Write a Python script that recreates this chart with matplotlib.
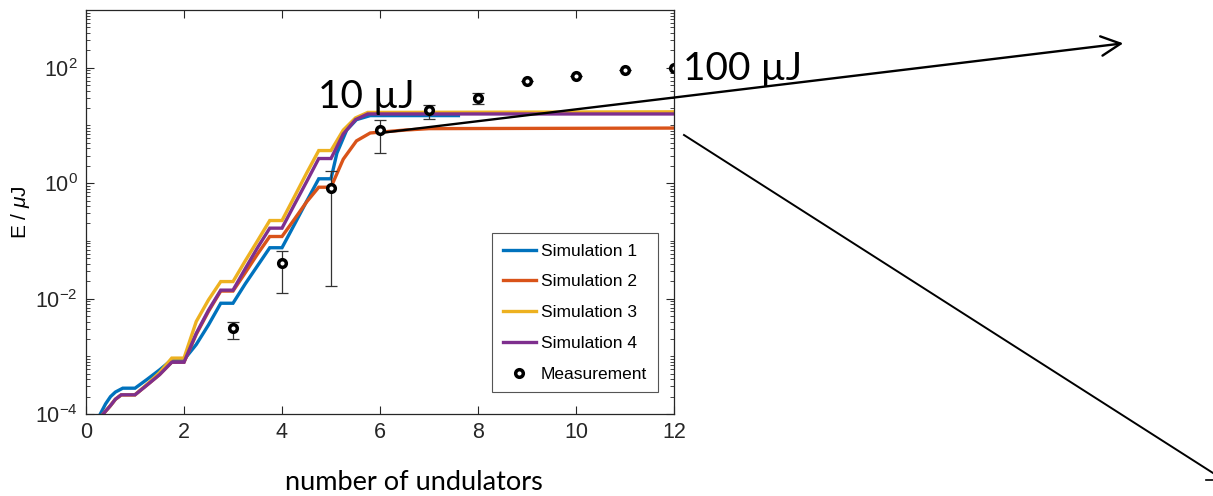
import matplotlib.pyplot as plt
from matplotlib.lines import Line2D
from matplotlib.patches import FancyArrowPatch
from matplotlib.ticker import LogLocator, NullFormatter

# Simulated pulse energy along the undulator line (µJ)
x_sim1 = [0.2, 0.4, 0.5, 0.6, 0.75, 1.0, 1.25, 1.5, 1.75, 2.0, 2.25, 2.5, 2.75, 3.0,
          3.25, 3.5, 3.75, 4.0, 4.25, 4.5, 4.75, 5.0, 5.12, 5.32, 5.52, 5.8, 7.6]
e_sim1 = [7.1e-5, 1.5e-4, 2.0e-4, 2.4e-4, 2.8e-4, 2.8e-4, 4.0e-4, 5.8e-4, 8.7e-4, 8.7e-4,
          1.6e-3, 3.5e-3, 8.3e-3, 8.3e-3, 0.018, 0.037, 0.076, 0.076, 0.19, 0.48, 1.19, 1.19,
          3.3, 8.3, 12.6, 14.8, 14.8]

x_sim2 = [0.25, 0.35, 0.5, 0.6, 0.72, 1.0, 1.25, 1.5, 1.75, 2.0, 2.25, 2.5, 2.75, 3.0,
          3.25, 3.5, 3.75, 4.0, 4.25, 4.5, 4.75, 5.0, 5.25, 5.52, 5.8, 6.5, 7.0, 12.0]
e_sim2 = [7.0e-5, 1.0e-4, 1.4e-4, 1.8e-4, 2.15e-4, 2.15e-4, 3.2e-4, 4.8e-4, 7.9e-4, 7.9e-4,
          2.4e-3, 6.0e-3, 0.0135, 0.0135, 0.028, 0.059, 0.119, 0.119, 0.235, 0.47, 0.85, 0.85,
          2.6, 5.4, 7.4, 8.3, 8.8, 9.0]

x_sim3 = [0.25, 0.35, 0.5, 0.6, 0.72, 1.0, 1.25, 1.5, 1.75, 2.0, 2.25, 2.5, 2.75, 3.0,
          3.25, 3.5, 3.75, 4.0, 4.25, 4.5, 4.75, 5.0, 5.25, 5.5, 5.75, 12.0]
e_sim3 = [7.0e-5, 1.0e-4, 1.4e-4, 1.8e-4, 2.15e-4, 2.15e-4, 3.3e-4, 5.2e-4, 9.3e-4, 9.3e-4,
          4.0e-3, 9.5e-3, 0.0197, 0.0197, 0.045, 0.10, 0.225, 0.225, 0.575, 1.48, 3.67, 3.67,
          8.3, 13.5, 16.8, 17.2]

x_sim4 = [0.25, 0.35, 0.5, 0.6, 0.72, 1.0, 1.25, 1.5, 1.75, 2.0, 2.25, 2.5, 2.75, 3.0,
          3.25, 3.5, 3.75, 4.0, 4.25, 4.5, 4.75, 5.0, 5.25, 5.5, 5.75, 12.0]
e_sim4 = [7.0e-5, 1.0e-4, 1.4e-4, 1.8e-4, 2.15e-4, 2.15e-4, 3.2e-4, 4.8e-4, 7.9e-4, 7.9e-4,
          2.5e-3, 6.3e-3, 0.014, 0.014, 0.033, 0.076, 0.166, 0.166, 0.42, 1.05, 2.67, 2.67,
          7.1, 12.6, 15.8, 15.8]

# Measured energies with error range
x_meas = [3, 4, 5, 6, 7, 8, 9, 10, 11, 12]
e_meas = [3.07e-3, 0.041, 0.82, 8.2, 18.7, 29.7, 57.7, 73, 92, 100]
e_low = [2.0e-3, 0.0127, 0.0166, 3.3, 13.0, 23.7, 57.7, 73, 92, 100]
e_high = [4.0e-3, 0.067, 1.6, 12.5, 22.7, 36.3, 57.7, 73, 92, 100]

sim_labels = ['Simulation 1', 'Simulation 2', 'Simulation 3', 'Simulation 4']
sim_colors = ['#0072BD', '#D95319', '#EDB120', '#7E2F8E']

plot_font = ['Liberation Sans', 'DejaVu Sans']
slide_font = ['Lato', 'DejaVu Sans']
plt.rcParams['mathtext.fontset'] = 'custom'
plt.rcParams['mathtext.rm'] = 'Liberation Sans'
plt.rcParams['mathtext.it'] = 'Liberation Sans:italic'

W, H = 1213, 496
fig = plt.figure(figsize=(W / 100, H / 100), dpi=100)
ax = fig.add_axes([86 / W, 1 - 414 / H, 588 / W, 404 / H])

for xs, es, lab, col in zip([x_sim1, x_sim2, x_sim3, x_sim4],
                            [e_sim1, e_sim2, e_sim3, e_sim4], sim_labels, sim_colors):
    ax.plot(xs, es, color=col, lw=2.4, label=lab, solid_joinstyle='miter')

yerr = [[m - lo for m, lo in zip(e_meas, e_low)], [hi - m for m, hi in zip(e_meas, e_high)]]
ax.errorbar(x_meas, e_meas, yerr=yerr, fmt='none', ecolor='#333333', elinewidth=0.9,
            capsize=4, capthick=0.9)
ax.plot(x_meas, e_meas, 'o', ms=5.5, mfc='white', mec='black', mew=2.5,
        ls='none', label='Measurement')

ax.set_yscale('log')
ax.set_xlim(0, 12)
ax.set_ylim(1e-4, 1e3)
ax.set_xticks([0, 2, 4, 6, 8, 10, 12])
ax.yaxis.set_major_locator(LogLocator(base=100, numticks=10))
ax.yaxis.set_minor_locator(LogLocator(base=10, subs=range(1, 10), numticks=50))
ax.yaxis.set_minor_formatter(NullFormatter())
ax.tick_params(which='both', direction='in', top=True, right=True, colors='#262626')
ax.tick_params(which='major', length=6, width=0.8, labelsize=15.5, pad=6)
ax.tick_params(which='minor', length=3, width=0.6)
for lbl in ax.get_xticklabels() + ax.get_yticklabels():
    lbl.set_family(plot_font)
for sp in ax.spines.values():
    sp.set_color('#262626')
    sp.set_linewidth(0.9)

ax.set_ylabel(r'E / $\mu$J', fontsize=15, family=plot_font)
ax.yaxis.set_label_coords(-0.092, 0.5)

leg = ax.legend(loc='lower right', bbox_to_anchor=(0.972, 0.054), borderaxespad=0,
                fancybox=False, edgecolor='#555555', framealpha=1,
                prop={'family': plot_font, 'size': 12.5}, handlelength=1.9,
                handletextpad=0.3, labelspacing=0.9, borderpad=0.6)
leg.get_frame().set_linewidth(0.8)

# Slide text and arrows on top of the plot
fig.text(414 / W, 1 - 483 / H, 'number of undulators', ha='center', va='center',
         fontsize=19.5, family=slide_font)
fig.text(318 / W, 1 - 108 / H, '10 µJ', ha='left', va='baseline', fontsize=28,
         family=slide_font)
fig.text(683 / W, 1 - 80 / H, '100 µJ', ha='left', va='baseline', fontsize=28,
         family=slide_font)


def fpt(px, py):
    return (px / W, 1 - py / H)


fig.add_artist(FancyArrowPatch(fpt(380, 133), fpt(1126, 43), transform=fig.transFigure,
                               arrowstyle='->,head_length=14,head_width=7',
                               mutation_scale=1, color='black', lw=1.7))
fig.add_artist(Line2D([684 / W, 1213 / W], [1 - 135 / H, 1 - 473 / H],
                      transform=fig.transFigure, color='black', lw=1.4))
fig.add_artist(Line2D([1206 / W, 1213 / W], [1 - 480 / H, 1 - 480 / H],
                      transform=fig.transFigure, color='black', lw=1.2))

fig.savefig('out.png', dpi=100)
